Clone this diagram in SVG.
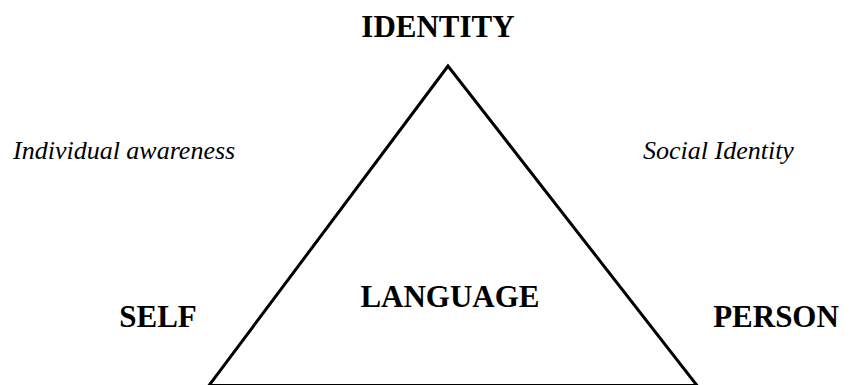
<svg xmlns="http://www.w3.org/2000/svg" width="851" height="385" viewBox="0 0 851 385">
<style>
.b{font-family:"Liberation Serif",serif;font-weight:bold;font-size:31px;fill:#000}
.i{font-family:"Liberation Serif",serif;font-style:italic;font-size:26px;fill:#000}
</style>
<rect width="851" height="385" fill="#fff"/>
<g id="connectors">
<polygon points="448,66 209,385.5 697,385.5" fill="none" stroke="#000" stroke-width="3" stroke-linejoin="miter"/>
</g>
<g id="identity"><text class="b" x="438" y="37" text-anchor="middle">IDENTITY</text></g>
<g id="language"><text class="b" x="450" y="307" text-anchor="middle">LANGUAGE</text></g>
<g id="self"><text class="b" x="158" y="327" text-anchor="middle">SELF</text></g>
<g id="person"><text class="b" x="776" y="327" text-anchor="middle">PERSON</text></g>
<g id="individual"><text class="i" x="13" y="159">Individual awareness</text></g>
<g id="social"><text class="i" x="643" y="159">Social Identity</text></g>
</svg>
